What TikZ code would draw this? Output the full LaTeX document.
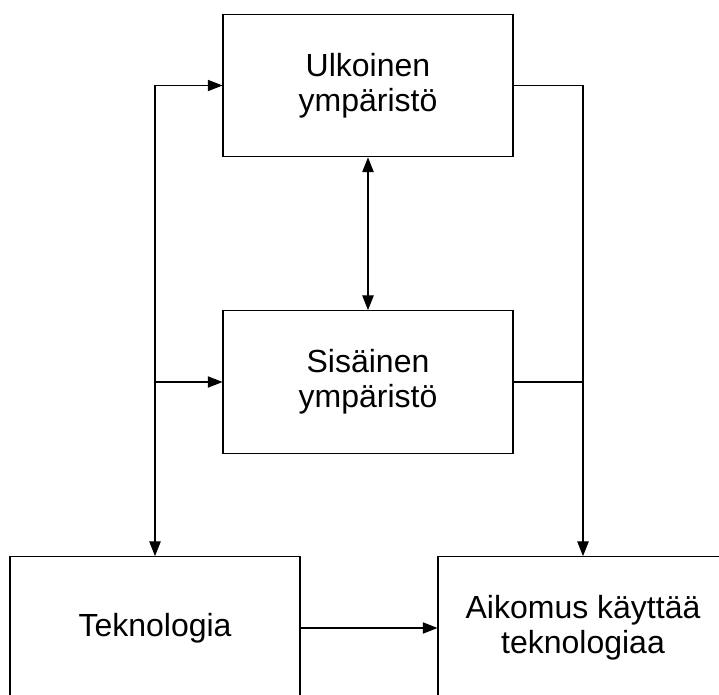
\documentclass[tikz,border=0pt]{standalone}
\usepackage{fontspec}
\setmainfont{Liberation Sans}
\usepackage{tikz}
\usetikzlibrary{arrows.meta}

\tikzset{
  laatikko/.style={draw, line width=0.8pt, minimum width=217.5pt, minimum height=107pt,
    inner sep=0pt, align=center, font=\fontsize{24}{26.5}\selectfont},
  nuoli/.style={line width=0.8pt, -{Triangle[length=11pt,width=8.5pt]}},
  kaksinuoli/.style={line width=0.8pt, {Triangle[length=11pt,width=8.5pt]}-{Triangle[length=11pt,width=8.5pt]}},
  viiva/.style={line width=0.8pt}
}

\begin{document}
\begin{tikzpicture}[x=0.75pt,y=0.75pt,yscale=-1,xscale=1]
\useasboundingbox (0,0) rectangle (719,695);
\clip (0,0) rectangle (719,695);

% Boxes
\node[laatikko] (ulk) at (368,85.5) {Ulkoinen\\ympäristö};
\node[laatikko] (sis) at (368,382) {Sisäinen\\ympäristö};
\node[laatikko] (tek) at (155,628) {Teknologia};
\node[laatikko] (aik) at (583,628) {Aikomus käyttää\\teknologiaa};

% Corner points
\coordinate (vy) at (tek.north |- ulk.west);
\coordinate (vk) at (tek.north |- sis.west);
\coordinate (oy) at (aik.north |- ulk.east);
\coordinate (ok) at (aik.north |- sis.east);

% Connectors
\draw[kaksinuoli] (tek.north) -- (vy) -- (ulk.west);
\draw[nuoli] (vk) -- (sis.west);
\draw[nuoli] (ulk.east) -- (oy) -- (aik.north);
\draw[viiva] (sis.east) -- (ok);
\draw[kaksinuoli] (ulk.south) -- (sis.north);
\draw[nuoli] (tek.east) -- (aik.west);

\end{tikzpicture}
\end{document}
